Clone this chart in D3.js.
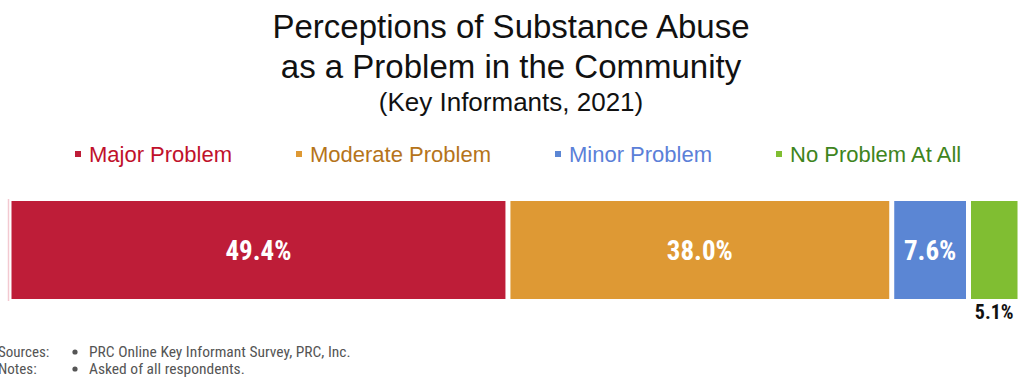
<!DOCTYPE html>
<html>
<head>
<meta charset="utf-8">
<script src="https://cdn.jsdelivr.net/npm/d3@7"></script>
<style>
  body { margin: 0; background: #fff; }
  svg { display: block; }
</style>
</head>
<body>
<div id="container"></div>
<script>
let w = 1021;
let h = 379;

// data
let categories = ["Major Problem", "Moderate Problem", "Minor Problem", "No Problem At All"];
let values = [49.4, 38.0, 7.6, 5.1];
let barColors = ["#BE1D38", "#DE9934", "#5B86D4", "#80BE32"];
let legendColors = ["#C0112B", "#B5741A", "#5B80D8", "#3E8420"];
let titleLines = ["Perceptions of Substance Abuse", "as a Problem in the Community"];
let subtitle = "(Key Informants, 2021)";
let footLabels = ["Sources:", "Notes:"];
let footTexts = ["PRC Online Key Informant Survey, PRC, Inc.", "Asked of all respondents."];

let viz = d3.select("#container").append("svg")
    .attr("width", w)
    .attr("height", h)
    .style("background-color", "white");

let sans = "'Liberation Sans', Arial, sans-serif";
let narrow = "'Roboto Condensed', 'Arial Narrow', 'Liberation Sans', sans-serif";

// title
viz.selectAll(".title").data(titleLines).enter()
  .append("text")
    .attr("class", "title")
    .attr("x", 511)
    .attr("y", (d, i) => 38 + i * 40)
    .attr("text-anchor", "middle")
    .style("font-family", sans)
    .style("font-size", "33px")
    .style("fill", "#111")
    .text(d => d);

viz.append("text")
    .attr("x", 511)
    .attr("y", 111)
    .attr("text-anchor", "middle")
    .style("font-family", sans)
    .style("font-size", "26px")
    .style("fill", "#111")
    .text(subtitle);

// legend
let legendX = [75, 296, 555, 776];
let legend = viz.selectAll(".legend").data(categories).enter()
  .append("g")
    .attr("class", "legend")
    .attr("transform", (d, i) => "translate(" + legendX[i] + ",154)");

legend.append("rect")
    .attr("x", 0)
    .attr("y", -3)
    .attr("width", 6)
    .attr("height", 6)
    .attr("fill", (d, i) => barColors[i]);

legend.append("text")
    .attr("x", 14)
    .attr("y", 8)
    .style("font-family", sans)
    .style("font-size", "22px")
    .style("fill", (d, i) => legendColors[i])
    .text(d => d);

// stacked bar
let starts = [];
let acc = 0;
values.forEach(function(v){ starts.push(acc); acc += v; });

let x = d3.scaleLinear().domain([0, 100]).range([9, 1019]);
let barTop = 201;
let barH = 98;
let gap = 2.5;

viz.append("line")
    .attr("x1", 8.5).attr("x2", 8.5)
    .attr("y1", 199).attr("y2", 301)
    .attr("stroke", "#F3C9D1")
    .attr("stroke-width", 1.5);

viz.selectAll(".bar").data(values).enter()
  .append("rect")
    .attr("class", "bar")
    .attr("x", (d, i) => x(starts[i]) + gap)
    .attr("y", barTop)
    .attr("width", (d, i) => x(starts[i] + d) - x(starts[i]) - 2 * gap)
    .attr("height", barH)
    .attr("fill", (d, i) => barColors[i]);

// labels inside bars (not the small last one)
viz.selectAll(".lbl").data(values).enter()
  .append("text")
    .attr("class", "lbl")
    .attr("x", (d, i) => x(starts[i] + d / 2))
    .attr("y", (d, i) => i < 3 ? barTop + barH / 2 + 10 : barTop + barH + 20)
    .attr("text-anchor", "middle")
    .style("font-family", narrow)
    .style("font-weight", "bold")
    .style("font-size", (d, i) => i < 3 ? "27px" : "20px")
    .style("fill", (d, i) => i < 3 ? "#fff" : "#111")
    .text(d => d.toFixed(1) + "%");

// footnotes
let foot = viz.selectAll(".foot").data(footLabels).enter()
  .append("g")
    .attr("class", "foot")
    .attr("transform", (d, i) => "translate(0," + (357 + i * 17) + ")");

foot.append("text")
    .attr("x", -2)
    .style("font-family", narrow)
    .style("font-size", "15px")
    .style("fill", "#555")
    .text(d => d);

foot.append("circle")
    .attr("cx", 75)
    .attr("cy", -5)
    .attr("r", 2.6)
    .attr("fill", "#555");

foot.append("text")
    .attr("x", 89)
    .style("font-family", narrow)
    .style("font-size", "15.5px")
    .style("fill", "#555")
    .text((d, i) => footTexts[i]);
</script>
</body>
</html>
